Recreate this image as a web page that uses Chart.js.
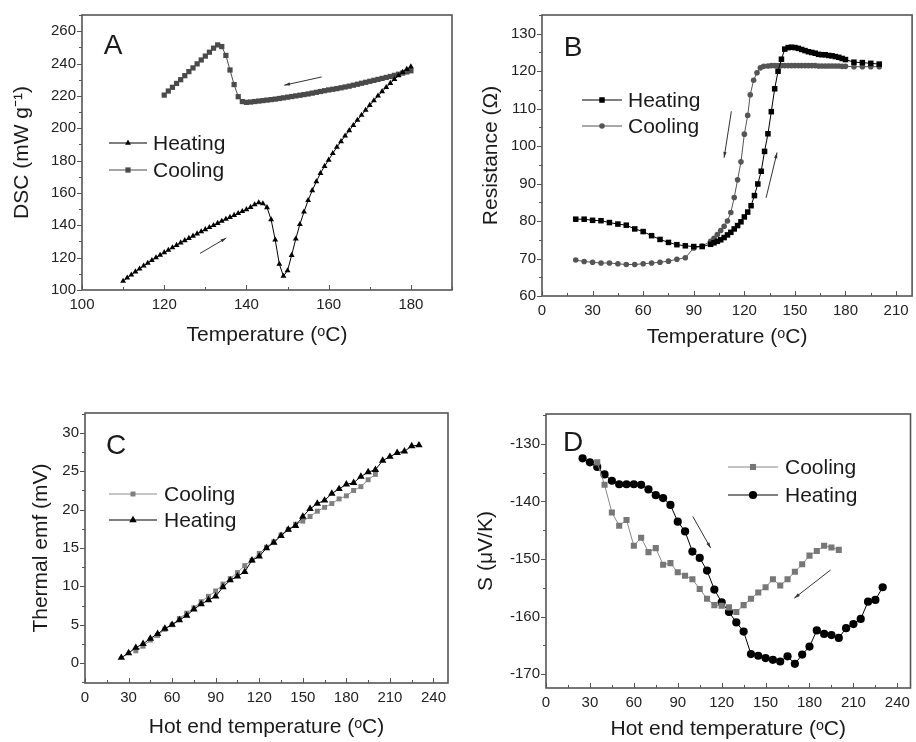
<!DOCTYPE html>
<html><head><meta charset="utf-8">
<script src="https://cdn.jsdelivr.net/npm/chart.js@4"></script>
<style>
html,body{margin:0;padding:0;background:#fff;}
body{width:916px;height:742px;position:relative;overflow:hidden;}
canvas{position:absolute;}
</style></head><body>
<canvas id="cA" width="458" height="371" style="left:0;top:0"></canvas>
<canvas id="cB" width="458" height="371" style="left:458px;top:0"></canvas>
<canvas id="cC" width="458" height="371" style="left:0;top:371px"></canvas>
<canvas id="cD" width="458" height="371" style="left:458px;top:371px"></canvas>
<script>
// ---------- Panel A: DSC ----------
const aHeatT = [110,111,112,113,114,115,116,117,118,119,120,121,122,123,124,125,126,127,128,129,130,131,132,133,134,135,136,137,138,139,140,141,142,143,144,145,146,147,148,149,150,151,152,153,154,155,156,157,158,159,160,161,162,163,164,165,166,167,168,169,170,171,172,173,174,175,176,177,178,179,180];
const aHeatDSC = [105.5,107.5,109.4,111.3,113.1,114.9,116.6,118.3,120.0,121.6,123.2,124.7,126.2,127.7,129.2,130.6,132.0,133.4,134.8,136.1,137.4,138.7,140.0,141.3,142.6,143.8,145.0,146.2,147.4,148.6,149.8,151.2,152.8,154.0,153.4,151.0,143.5,131.0,116.0,108.6,112.0,121.5,131.6,140.6,148.3,155.4,161.5,167.0,172.2,176.5,180.4,184.5,188.3,191.8,195.3,198.6,201.8,205.0,208.1,211.2,214.2,217.1,220.0,222.7,225.3,227.8,230.2,232.5,234.6,236.5,238.0];
const aCoolT = [120,121,122,123,124,125,126,127,128,129,130,131,132,133,134,135,136,137,138,139,140,141,142,143,144,145,146,147,148,149,150,151,152,153,154,155,156,157,158,159,160,161,162,163,164,165,166,167,168,169,170,171,172,173,174,175,176,177,178,179,180];
const aCoolDSC = [220.5,223.0,225.3,227.7,230.0,232.5,235.0,237.3,239.8,242.2,244.6,247.0,249.5,251.5,250.5,245.0,236.0,227.0,219.5,216.5,216.0,216.2,216.5,216.8,217.1,217.4,217.7,218.0,218.4,218.8,219.2,219.6,220.0,220.4,220.8,221.2,221.7,222.2,222.7,223.2,223.7,224.1,224.5,225.0,225.5,226.0,226.6,227.2,227.8,228.4,229.0,229.6,230.2,230.8,231.4,232.0,232.7,233.4,234.1,234.8,235.5];
const aXTicks = [100,120,140,160,180];
const aYTicks = [100,120,140,160,180,200,220,240,260];
const aArrows = [[128.7,122.6,135.1,132.2],[158.3,231.7,149.2,226.6]];

// ---------- Panel B: Resistance ----------
const bHeatT = [20,25,30,35,40,45,50,55,60,65,70,75,80,85,90,95,100,102,104,106,108,110,112,114,116,118,120,122,124,126,128,130,132,134,136,138,140,142,144,146,148,150,152,154,156,158,160,162,164,166,168,170,172,174,176,178,180,185,190,195,200];
const bHeatR = [80.5,80.5,80.2,80.1,79.6,79.2,78.9,77.9,77.2,76.1,75.1,74.3,73.7,73.4,73.2,73.2,73.8,74.2,74.6,75.0,75.6,76.3,77.0,77.9,78.8,79.8,81.1,82.4,84.1,86.8,89.9,93.3,98.6,103.3,109.2,115.3,120.0,123.2,125.9,126.3,126.4,126.3,126.1,125.8,125.5,125.2,125.0,124.8,124.5,124.4,124.4,124.2,124.1,123.9,123.7,123.4,123.1,122.4,122.3,122.1,121.9];
const bCoolT = [20,25,30,35,40,45,50,55,60,65,70,75,80,85,90,95,100,102,104,106,108,110,112,114,116,118,120,122,123.5,125.5,127.5,129.5,131.5,134,136,138,140,142,144,146,148,150,152,154,156,158,160,162,164,166,168,170,172,174,176,178,180,185,190,195,200];
const bCoolR = [69.6,69.2,69.0,68.8,68.8,68.6,68.4,68.4,68.6,68.8,69.0,69.3,69.8,70.2,72.8,73.3,74.6,75.4,76.4,77.5,78.6,80.0,82.3,86.3,91.0,95.8,103.2,108.2,113.7,117.6,119.6,120.9,121.3,121.4,121.5,121.5,121.5,121.5,121.5,121.5,121.5,121.5,121.5,121.5,121.5,121.5,121.5,121.5,121.4,121.4,121.4,121.4,121.4,121.4,121.4,121.3,121.3,121.2,121.2,121.2,121.2];
const bXTicks = [0,30,60,90,120,150,180,210];
const bYTicks = [60,70,80,90,100,110,120,130];
const bArrows = [[112.3,109.3,108.0,96.9],[132.9,86.2,139.4,98.3]];

// ---------- Panel C: Thermal emf ----------
const cCoolT = [35,40,45,50,55,60,65,70,75,80,85,90,95,100,105,110,115,120,125,130,135,140,145,150,155,160,165,170,175,180,185,190,195,200];
const cCoolE = [1.6,2.2,3.0,3.6,4.4,5.0,5.8,6.5,7.2,8.0,8.7,9.4,10.3,11.0,11.8,12.7,13.4,14.3,15.1,15.8,16.7,17.4,18.1,18.5,19.1,19.8,20.3,20.8,21.4,21.8,22.5,23.0,23.9,24.6];
const cHeatT = [25,30,35,40,45,50,55,60,65,70,75,80,85,90,95,100,105,110,115,120,125,130,135,140,145,150,155,160,165,170,175,180,185,190,195,200,205,210,215,220,225,230];
const cHeatE = [0.7,1.3,2.0,2.5,3.2,3.8,4.5,5.0,5.6,6.2,7.0,7.7,8.2,8.7,9.9,10.8,11.3,11.9,13.4,13.9,15.0,15.7,16.6,17.4,17.9,19.1,20.1,20.8,21.2,22.1,22.7,23.3,23.5,24.3,24.9,25.2,26.4,26.9,27.4,27.6,28.3,28.4];
const cXTicks = [0,30,60,90,120,150,180,210,240];
const cYTicks = [0,5,10,15,20,25,30];

// ---------- Panel D: Seebeck coefficient ----------
const dCoolT = [35,40,45,50,55,60,65,70,75,80,85,90,95,100,105,110,115,120,125,130,135,140,145,150,155,160,165,170,175,180,185,190,195,200];
const dCoolS = [-133.2,-137.1,-141.9,-144.2,-143.2,-147.7,-146.3,-148.8,-148.1,-151.0,-150.7,-152.3,-152.9,-153.5,-155.2,-156.9,-158.0,-158.1,-158.4,-159.2,-158.0,-156.9,-155.8,-154.9,-153.5,-154.6,-153.5,-152.2,-150.9,-149.4,-148.6,-147.7,-148.0,-148.4];
const dHeatT = [25,30,35,40,45,50,55,60,65,70,75,80,85,90,95,100,105,110,115,120,125,130,135,140,145,150,155,160,165,170,175,180,185,190,195,200,205,210,215,220,225,230];
const dHeatS = [-132.5,-133.2,-134.0,-135.3,-136.4,-137.0,-137.0,-137.0,-137.1,-137.9,-138.9,-139.4,-140.6,-143.5,-145.2,-148.7,-149.8,-152.0,-155.3,-157.5,-159.2,-161.0,-162.6,-166.5,-166.8,-167.2,-167.5,-167.8,-166.9,-168.2,-166.6,-165.2,-162.4,-163.0,-163.2,-163.7,-162.0,-161.3,-160.4,-157.4,-157.1,-154.9];
const dXTicks = [0,30,60,90,120,150,180,210,240];
const dYTicks = [-170,-160,-150,-140,-130];
const dArrows = [[100.3,-142.6,112.5,-148.1],[194.4,-151.9,169.6,-156.8]];

// ---------- rendering ----------
const FONT = '"Liberation Sans", Arial, Helvetica, sans-serif';
Chart.defaults.font.family = FONT;
Chart.defaults.color = '#222';

function markPath(ctx, style, r, x, y) {
  ctx.beginPath();
  if (style === 'rect') {
    const s = r * Math.SQRT1_2;
    ctx.rect(x - s, y - s, 2 * s, 2 * s);
  } else if (style === 'triangle') {
    let a = 0;
    ctx.moveTo(x + Math.sin(a) * r, y - Math.cos(a) * r);
    a += 2 * Math.PI / 3;
    ctx.lineTo(x + Math.sin(a) * r, y - Math.cos(a) * r);
    a += 2 * Math.PI / 3;
    ctx.lineTo(x + Math.sin(a) * r, y - Math.cos(a) * r);
    ctx.closePath();
  } else {
    ctx.arc(x, y, r, 0, Math.PI * 2);
  }
}

const panelDecor = {
  id: 'panelDecor',
  afterDatasetsDraw(chart, args, o) {
    const {ctx, chartArea: a} = chart;
    const xs = chart.scales.x, ys = chart.scales.y;
    ctx.save();
    // frame
    ctx.strokeStyle = '#555';
    ctx.lineWidth = 1.6;
    ctx.strokeRect(a.left, a.top, a.right - a.left, a.bottom - a.top);
    // ticks (major + minor)
    ctx.lineWidth = 1;
    ctx.beginPath();
    const isMajor = (list, v) => list.some(t => Math.abs(t - v) < 1e-6);
    for (let k = Math.ceil(xs.min / o.xMinor); k * o.xMinor <= xs.max + 1e-9; k++) {
      const v = k * o.xMinor;
      const px = Math.round(xs.getPixelForValue(v)) + 0.5;
      const len = isMajor(o.xTicks, v) ? 5 : 3;
      ctx.moveTo(px, a.bottom);
      ctx.lineTo(px, a.bottom - len);
    }
    for (let k = Math.ceil(ys.min / o.yMinor); k * o.yMinor <= ys.max + 1e-9; k++) {
      const v = k * o.yMinor;
      const py = Math.round(ys.getPixelForValue(v)) + 0.5;
      const len = isMajor(o.yTicks, v) ? 5 : 3;
      ctx.moveTo(a.left, py);
      ctx.lineTo(a.left - len, py);
    }
    ctx.stroke();
    // arrows
    ctx.strokeStyle = '#333';
    ctx.fillStyle = '#333';
    (o.arrows || []).forEach(ar => {
      const x1 = xs.getPixelForValue(ar[0]), y1 = ys.getPixelForValue(ar[1]);
      const x2 = xs.getPixelForValue(ar[2]), y2 = ys.getPixelForValue(ar[3]);
      const ang = Math.atan2(y2 - y1, x2 - x1);
      ctx.lineWidth = 1;
      ctx.beginPath();
      ctx.moveTo(x1, y1);
      ctx.lineTo(x2, y2);
      ctx.stroke();
      const h = 6, w = 0.28;
      ctx.beginPath();
      ctx.moveTo(x2, y2);
      ctx.lineTo(x2 - h * Math.cos(ang - w), y2 - h * Math.sin(ang - w));
      ctx.lineTo(x2 - h * Math.cos(ang + w), y2 - h * Math.sin(ang + w));
      ctx.closePath();
      ctx.fill();
    });
    // legend
    const L = o.legend;
    ctx.font = '21px ' + FONT;
    ctx.textBaseline = 'middle';
    ctx.textAlign = 'left';
    chart.data.datasets.forEach((ds, i) => {
      const y = L.ys[i];
      ctx.strokeStyle = ds.borderColor;
      ctx.lineWidth = 1.2;
      ctx.beginPath();
      ctx.moveTo(L.x0, y);
      ctx.lineTo(L.x1, y);
      ctx.stroke();
      ctx.fillStyle = ds.pointBackgroundColor;
      markPath(ctx, ds.pointStyle, ds.pointRadius, (L.x0 + L.x1) / 2, y);
      ctx.fill();
      ctx.fillStyle = '#1a1a1a';
      ctx.fillText(ds.label, L.tx, y + 1);
    });
    // panel letter
    ctx.font = '28px ' + FONT;
    ctx.fillStyle = '#1a1a1a';
    ctx.textAlign = 'center';
    ctx.fillText(o.letter, a.left + o.letterDx, a.top + o.letterDy + 1);
    ctx.restore();
  }
};

function series(label, xs, ys, color, lineColor, style, r, order) {
  return {
    label, data: xs.map((x, i) => ({x, y: ys[i]})), showLine: true,
    borderColor: lineColor, borderWidth: 1, backgroundColor: color,
    pointBackgroundColor: color, pointBorderColor: color, pointBorderWidth: 0,
    pointStyle: style, pointRadius: r, pointHoverRadius: r, order, tension: 0
  };
}

function makePanel(id, p, datasets) {
  new Chart(document.getElementById(id), {
    type: 'scatter',
    data: {datasets},
    options: {
      responsive: false, animation: false, devicePixelRatio: 1,
      events: [],
      layout: {padding: p.pad},
      plugins: {
        legend: {display: false}, tooltip: {enabled: false},
        panelDecor: {xTicks: p.xTicks, yTicks: p.yTicks, xMinor: p.xMinor, yMinor: p.yMinor,
          arrows: p.arrows, legend: p.legend, letter: p.letter, letterDx: p.letterD[0], letterDy: p.letterD[1]}
      },
      scales: {
        x: {
          type: 'linear', position: 'bottom', min: p.xRange[0], max: p.xRange[1],
          afterBuildTicks: s => { s.ticks = p.xTicks.map(v => ({value: v})); },
          afterFit: s => { s.height = p.xH; },
          grid: {display: false, drawTicks: false}, border: {display: false},
          ticks: {padding: 6, color: '#222', font: {size: 15}, maxRotation: 0, autoSkip: false},
          title: {display: true, text: p.xTitle, color: '#1a1a1a', font: {size: 21}, padding: {top: 0, bottom: p.xTitlePad}}
        },
        y: {
          type: 'linear', position: 'left', min: p.yRange[0], max: p.yRange[1],
          afterBuildTicks: s => { s.ticks = p.yTicks.map(v => ({value: v})); },
          afterFit: s => { s.width = p.yW; },
          grid: {display: false, drawTicks: false}, border: {display: false},
          ticks: {padding: 6, color: '#222', font: {size: 15}, autoSkip: false},
          title: {display: true, text: p.yTitle, color: '#1a1a1a', font: {size: 21}, padding: {top: p.yTitlePad, bottom: 0}}
        }
      }
    },
    plugins: [panelDecor]
  });
}

makePanel('cA', {
  pad: {left: 0, top: 13, right: 6, bottom: 0}, xH: 81, yW: 82,
  xRange: [100, 190], yRange: [100, 270], xTicks: aXTicks, yTicks: aYTicks, xMinor: 10, yMinor: 10,
  xTitle: 'Temperature (\u1D52C)', yTitle: 'DSC (mW g\u207B\u00B9)', xTitlePad: 23, yTitlePad: 10,
  arrows: aArrows, letter: 'A', letterD: [31, 30],
  legend: {x0: 109, x1: 147, tx: 153, ys: [143, 170]}
}, [
  series('Heating', aHeatT, aHeatDSC, '#000', '#000', 'triangle', 3.4, 0),
  series('Cooling', aCoolT, aCoolDSC, '#4a4a4a', '#4a4a4a', 'rect', 3.7, 1)
]);

makePanel('cB', {
  pad: {left: 0, top: 13, right: 2, bottom: 0}, xH: 75, yW: 84,
  xRange: [0, 219.5], yRange: [60, 135], xTicks: bXTicks, yTicks: bYTicks, xMinor: 15, yMinor: 5,
  xTitle: 'Temperature (\u1D52C)', yTitle: 'Resistance (\u03A9)', xTitlePad: 21, yTitlePad: 21,
  arrows: bArrows, letter: 'B', letterD: [31, 32],
  legend: {x0: 124, x1: 164, tx: 170, ys: [100, 126]}
}, [
  series('Heating', bHeatT, bHeatR, '#000', '#000', 'rect', 3.9, 0),
  series('Cooling', bCoolT, bCoolR, '#555', '#555', 'circle', 2.8, 1)
]);

makePanel('cC', {
  pad: {left: 0, top: 42, right: 10, bottom: 0}, xH: 59, yW: 85,
  xRange: [0, 250], yRange: [-2.6, 32.6], xTicks: cXTicks, yTicks: cYTicks, xMinor: 15, yMinor: 2.5,
  xTitle: 'Hot end temperature (\u1D52C)', yTitle: 'Thermal emf (mV)', xTitlePad: 2, yTitlePad: 29,
  arrows: [], letter: 'C', letterD: [31, 32],
  legend: {x0: 109, x1: 157, tx: 164, ys: [123, 149]}
}, [
  series('Cooling', cCoolT, cCoolE, '#808080', '#8c8c8c', 'rect', 3.5, 1),
  series('Heating', cHeatT, cHeatE, '#000', '#000', 'triangle', 4.3, 0)
]);

makePanel('cD', {
  pad: {left: 0, top: 43, right: 2, bottom: 0}, xH: 54, yW: 88,
  xRange: [0, 249], yRange: [-172.4, -124.8], xTicks: dXTicks, yTicks: dYTicks, xMinor: 15, yMinor: 5,
  xTitle: 'Hot end temperature (\u1D52C)', yTitle: 'S (\u03BCV/K)', xTitlePad: 0, yTitlePad: 16,
  arrows: dArrows, letter: 'D', letterD: [27, 28],
  legend: {x0: 270, x1: 320, tx: 327, ys: [96, 124]}
}, [
  series('Cooling', dCoolT, dCoolS, '#777', '#888', 'rect', 4.3, 0),
  series('Heating', dHeatT, dHeatS, '#000', '#000', 'circle', 4.1, 1)
]);
</script>
</body></html>
